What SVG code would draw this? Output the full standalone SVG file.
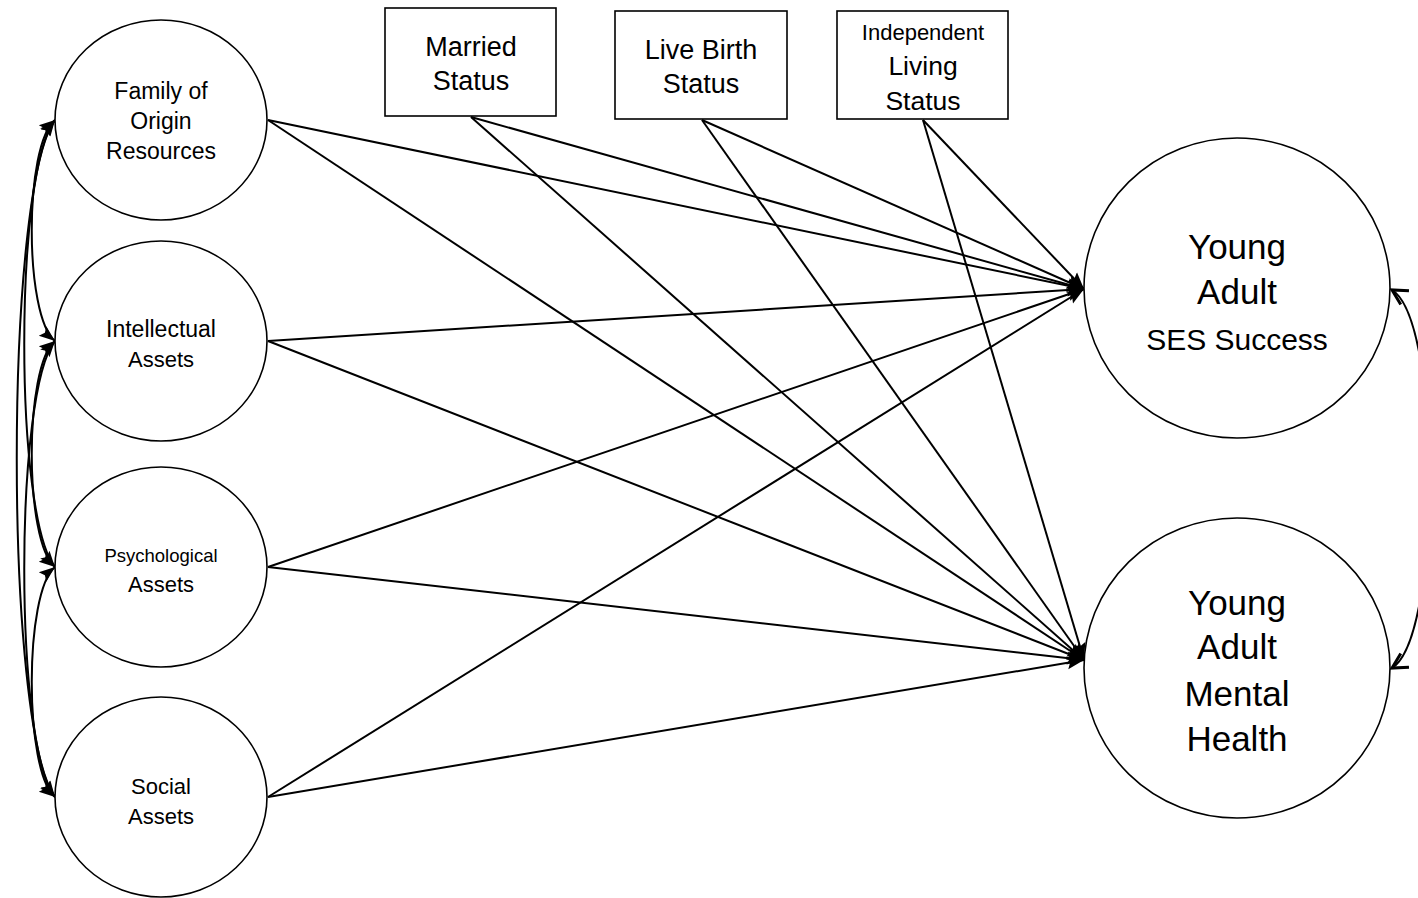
<svg xmlns="http://www.w3.org/2000/svg" width="1418" height="898" viewBox="0 0 1418 898">
<style>
.node{fill:#fff;stroke:#000;stroke-width:1.6}
.t{font-family:"Liberation Sans",Arial,sans-serif;fill:#000;text-anchor:middle}
.ln{fill:none;stroke:#000;stroke-width:2}
.cv{fill:none;stroke:#000;stroke-width:2}
</style>
<defs>
<marker id="ah" markerUnits="userSpaceOnUse" markerWidth="18" markerHeight="14" refX="17" refY="7" orient="auto">
<path d="M0,0.5 L17,7 L0,13.5 L3,7 z" fill="#000"/>
</marker>
<marker id="ahc" markerUnits="userSpaceOnUse" markerWidth="18" markerHeight="14" refX="16" refY="7" orient="auto-start-reverse">
<path d="M0,1 L16,7 L0,13 L3,7 z" fill="#000"/>
</marker>
<marker id="ao" markerUnits="userSpaceOnUse" markerWidth="22" markerHeight="22" refX="18" refY="11" orient="auto-start-reverse">
<path d="M3,3 L18,11 L3,19" fill="none" stroke="#000" stroke-width="3"/>
</marker>
</defs>

<g id="connectors">
<!-- to SES -->
<line class="ln" x1="268" y1="120" x2="1084" y2="289" marker-end="url(#ah)"/>
<line class="ln" x1="268" y1="341" x2="1084" y2="289" marker-end="url(#ah)"/>
<line class="ln" x1="268" y1="567" x2="1084" y2="289" marker-end="url(#ah)"/>
<line class="ln" x1="268" y1="797" x2="1084" y2="289" marker-end="url(#ah)"/>
<line class="ln" x1="471" y1="117" x2="1084" y2="289" marker-end="url(#ah)"/>
<line class="ln" x1="702" y1="120" x2="1084" y2="289" marker-end="url(#ah)"/>
<line class="ln" x1="923" y1="120" x2="1084" y2="289" marker-end="url(#ah)"/>
<!-- to MH -->
<line class="ln" x1="268" y1="120" x2="1084" y2="660" marker-end="url(#ah)"/>
<line class="ln" x1="268" y1="341" x2="1084" y2="660" marker-end="url(#ah)"/>
<line class="ln" x1="268" y1="567" x2="1084" y2="660" marker-end="url(#ah)"/>
<line class="ln" x1="268" y1="797" x2="1084" y2="660" marker-end="url(#ah)"/>
<line class="ln" x1="471" y1="117" x2="1084" y2="660" marker-end="url(#ah)"/>
<line class="ln" x1="702" y1="120" x2="1084" y2="660" marker-end="url(#ah)"/>
<line class="ln" x1="923" y1="120" x2="1084" y2="660" marker-end="url(#ah)"/>
<!-- left correlations -->
<path class="cv" d="M55,120 C24,145 24,316 55,341" marker-start="url(#ahc)" marker-end="url(#ahc)"/>
<path class="cv" d="M55,120 C14,170 14,517 55,567" marker-start="url(#ahc)" marker-end="url(#ahc)"/>
<path class="cv" d="M55,120 C4,190 4,727 55,797" marker-start="url(#ahc)" marker-end="url(#ahc)"/>
<path class="cv" d="M55,341 C24,366 24,542 55,567" marker-start="url(#ahc)" marker-end="url(#ahc)"/>
<path class="cv" d="M55,341 C14,391 14,747 55,797" marker-start="url(#ahc)" marker-end="url(#ahc)"/>
<path class="cv" d="M55,567 C24,592 24,772 55,797" marker-start="url(#ahc)" marker-end="url(#ahc)"/>
<!-- right correlation -->
<path class="cv" d="M1392,290 C1442,320 1442,638 1392,668" marker-start="url(#ao)" marker-end="url(#ao)"/>
</g>

<g id="family">
<ellipse class="node" cx="161" cy="120" rx="106" ry="100"/>
<text class="t" x="161" y="99" font-size="23">Family of</text>
<text class="t" x="161" y="129" font-size="23">Origin</text>
<text class="t" x="161" y="159" font-size="23">Resources</text>
</g>
<g id="intellectual">
<ellipse class="node" cx="161" cy="341" rx="106" ry="100"/>
<text class="t" x="161" y="337" font-size="23">Intellectual</text>
<text class="t" x="161" y="367" font-size="22">Assets</text>
</g>
<g id="psychological">
<ellipse class="node" cx="161" cy="567" rx="106" ry="100"/>
<text class="t" x="161" y="562" font-size="18.5">Psychological</text>
<text class="t" x="161" y="592" font-size="22">Assets</text>
</g>
<g id="social">
<ellipse class="node" cx="161" cy="797" rx="106" ry="100"/>
<text class="t" x="161" y="794" font-size="22">Social</text>
<text class="t" x="161" y="824" font-size="22">Assets</text>
</g>

<g id="married">
<rect class="node" x="385" y="8" width="171" height="108"/>
<text class="t" x="471" y="56" font-size="27">Married</text>
<text class="t" x="471" y="90" font-size="27">Status</text>
</g>
<g id="livebirth">
<rect class="node" x="615" y="11" width="172" height="108"/>
<text class="t" x="701" y="59" font-size="27">Live Birth</text>
<text class="t" x="701" y="93" font-size="27">Status</text>
</g>
<g id="independent">
<rect class="node" x="837" y="11" width="171" height="108"/>
<text class="t" x="923" y="40" font-size="22">Independent</text>
<text class="t" x="923" y="75" font-size="26.5">Living</text>
<text class="t" x="923" y="110" font-size="26.5">Status</text>
</g>

<g id="ses">
<ellipse class="node" cx="1237" cy="288" rx="153" ry="150"/>
<text class="t" x="1237" y="259" font-size="35">Young</text>
<text class="t" x="1237" y="304" font-size="35">Adult</text>
<text class="t" x="1237" y="350" font-size="30">SES Success</text>
</g>
<g id="mentalhealth">
<ellipse class="node" cx="1237" cy="668" rx="153" ry="150"/>
<text class="t" x="1237" y="615" font-size="35">Young</text>
<text class="t" x="1237" y="659" font-size="35">Adult</text>
<text class="t" x="1237" y="706" font-size="35">Mental</text>
<text class="t" x="1237" y="751" font-size="35">Health</text>
</g>
</svg>
